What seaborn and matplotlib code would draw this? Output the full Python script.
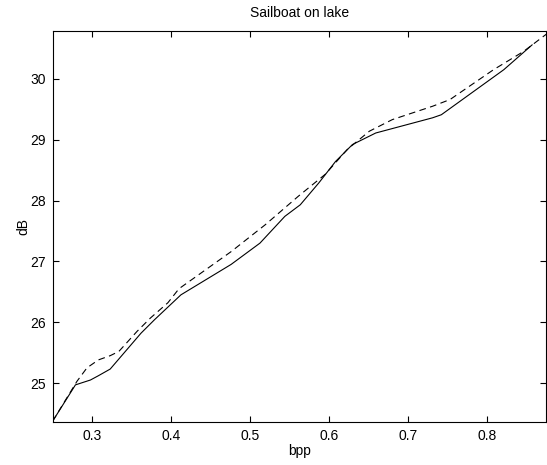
import seaborn as sns
import matplotlib.pyplot as plt
import pandas as pd

# solid curve
bpp_a = [0.25, 0.279, 0.298, 0.308, 0.323, 0.362, 0.379, 0.4125, 0.476, 0.5125,
         0.544, 0.5635, 0.587, 0.608, 0.6295, 0.659, 0.731, 0.742, 0.821, 0.857]
db_a = [24.37, 24.97, 25.05, 25.12, 25.23, 25.82, 26.04, 26.45, 26.95, 27.30,
        27.74, 27.93, 28.29, 28.64, 28.92, 29.11, 29.36, 29.41, 30.15, 30.56]

# dashed curve
bpp_b = [0.25, 0.281, 0.2936, 0.308, 0.323, 0.334, 0.357, 0.374, 0.396, 0.41,
         0.476, 0.519, 0.561, 0.595, 0.623, 0.651, 0.680, 0.731, 0.753, 0.808,
         0.846, 0.8775]
db_b = [24.37, 25.03, 25.25, 25.38, 25.45, 25.52, 25.85, 26.07, 26.32, 26.55,
        27.16, 27.60, 28.07, 28.43, 28.84, 29.14, 29.33, 29.55, 29.66, 30.15,
        30.45, 30.76]

sns.set_style("ticks", {'axes.edgecolor': 'black', 'text.color': 'black',
                        'axes.labelcolor': 'black', 'xtick.color': 'black',
                        'ytick.color': 'black'})
plt.rcParams['font.family'] = ['Liberation Sans', 'DejaVu Sans']

df_a = pd.DataFrame({'bpp': bpp_a, 'dB': db_a})
df_b = pd.DataFrame({'bpp': bpp_b, 'dB': db_b})

fig = plt.figure(figsize=(5.47, 4.65), dpi=100)
ax = fig.add_axes([0.096, 0.0925, 0.903, 0.84])

sns.lineplot(data=df_a, x='bpp', y='dB', color='black', linewidth=0.8, ax=ax)
sns.lineplot(data=df_b, x='bpp', y='dB', color='black', linewidth=0.8,
             linestyle=(0, (6, 4)), ax=ax)

ax.set_xlim(0.25, 0.875)
ax.set_ylim(24.36, 30.78)
ax.set_xticks([0.3, 0.4, 0.5, 0.6, 0.7, 0.8])
ax.set_yticks([25, 26, 27, 28, 29, 30])
ax.tick_params(direction='in', top=True, right=True, labelsize=10, length=4,
               width=0.8, colors='black', pad=5)
for s in ax.spines.values():
    s.set_linewidth(0.8)
    s.set_color('black')
ax.set_xlabel('bpp', fontsize=10, labelpad=1, color='black')
ax.set_ylabel('dB', fontsize=10, labelpad=0, color='black')
ax.set_title('Sailboat on lake', fontsize=10, pad=10, color='black')

fig.savefig('out.png', dpi=100)
